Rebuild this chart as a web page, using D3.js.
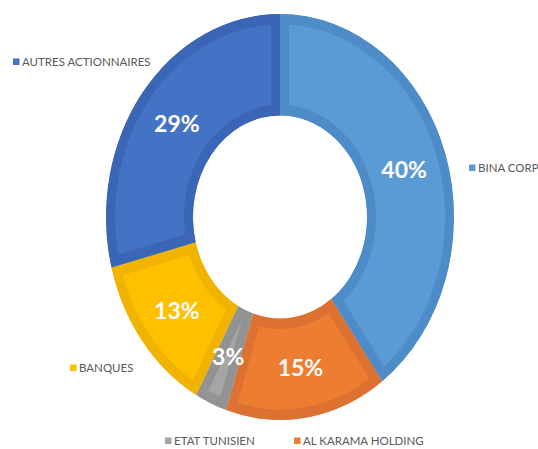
<!DOCTYPE html>
<html>
<head>
<meta charset="utf-8">
<script src="https://cdn.jsdelivr.net/npm/d3@7"></script>
<style>
  html, body { margin: 0; padding: 0; background: #ffffff; }
  svg { display: block; }
</style>
</head>
<body>
<div id="chart"></div>
<script>
const categories = ["BINA CORP", "AL KARAMA HOLDING", "ETAT TUNISIEN", "BANQUES", "AUTRES ACTIONNAIRES"];
const values = [40, 15, 3, 13, 29];
const valueLabels = ["40%", "15%", "3%", "13%", "29%"];
const fillColors = ["#5b9bd5", "#ed7d31", "#a5a5a5", "#ffc000", "#4472c4"];
const borderColors = ["#4d8bc9", "#dd7131", "#939393", "#efb300", "#3b65b5"];

const W = 538, H = 449;
const cx = 280, cy = 217;
const R = 174, sy = 203 / 174;
const innerR = R * 0.5;

const svg = d3.select("#chart").append("svg")
  .attr("width", W).attr("height", H);

const pie = d3.pie().sort(null).value(d => d.value);
const data = categories.map((c, i) => ({ name: c, value: values[i], label: valueLabels[i], i }));
const arcs = pie(data);
const arc = d3.arc().innerRadius(innerR).outerRadius(R);
const labelArc = d3.arc().innerRadius(innerR).outerRadius(R);

const defs = svg.append("defs");
arcs.forEach((a, i) => {
  defs.append("clipPath").attr("id", "clip" + i)
    .append("path").attr("d", arc(a));
});

const g = svg.append("g").attr("transform", `translate(${cx},${cy}) scale(1,${sy})`);

g.selectAll("path.slice").data(arcs).enter().append("path")
  .attr("class", "slice")
  .attr("d", arc)
  .attr("fill", (d, i) => fillColors[i])
  .attr("stroke", (d, i) => borderColors[i])
  .attr("stroke-width", 18)
  .attr("clip-path", (d, i) => `url(#clip${i})`);

// percentage labels
svg.append("g").selectAll("text").data(arcs).enter().append("text")
  .attr("x", d => cx + labelArc.centroid(d)[0])
  .attr("y", d => cy + labelArc.centroid(d)[1] * sy)
  .attr("dy", "0.36em")
  .attr("text-anchor", "middle")
  .attr("fill", "#ffffff")
  .attr("font-family", "Lato, 'Open Sans', sans-serif")
  .attr("font-weight", "bold")
  .attr("font-size", 23)
  .text(d => d.data.label);

// legend / category labels
const legendPos = [
  { x: 469, y: 168 },
  { x: 294, y: 441 },
  { x: 165, y: 441 },
  { x: 70, y: 368 },
  { x: 13, y: 62 }
];
const lg = svg.append("g");
data.forEach((d, i) => {
  const p = legendPos[i];
  lg.append("rect")
    .attr("x", p.x).attr("y", p.y - 3.5)
    .attr("width", 6.5).attr("height", 6.5)
    .attr("fill", fillColors[i]);
  lg.append("text")
    .attr("x", p.x + 9).attr("y", p.y)
    .attr("dy", "0.36em")
    .attr("fill", "#595959")
    .attr("font-family", "Lato, 'Open Sans', sans-serif")
    .attr("font-size", 11.5)
    .text(d.name);
});
</script>
</body>
</html>
